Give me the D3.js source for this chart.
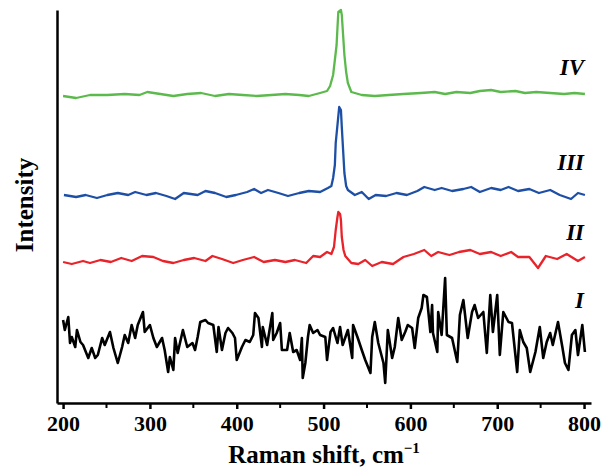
<!DOCTYPE html>
<html lang="en">
  <head>
    <meta charset="UTF-8" />
    <title>Raman spectra</title>
    <script src="https://cdn.jsdelivr.net/npm/d3@7"></script>
    <style>
      body { margin: 0; background: #fff; }
      text { font-family: "Liberation Serif", "Times New Roman", serif; font-weight: bold; }
    </style>
  </head>
  <body>
    <div id="chart"></div>
    <script>
      // wavenumber (cm-1) / intensity (a.u.)
      const shiftI = [200,202,206,208,210,214,216,220,223,229,233,237,240,245,248,254,258,263,268,271,275,279,283,286,292,294,300,304,308,314,317,321,323,327,329,332,338,343,349,352,355,358,364,367,373,377,379,383,387,390,395,398,400,406,410,415,419,421,425,429,430,435,441,442,446,450,452,458,461,465,469,473,475,476,479,482,484,488,493,496,502,504,508,511,516,519,522,528,533,534,539,544,548,554,556,559,563,569,571,574,579,582,586,590,594,597,602,605,609,613,615,619,623,625,626,631,632,636,640,642,648,654,657,661,666,671,674,678,684,688,692,695,700,703,707,713,717,723,726,730,734,738,744,749,753,757,761,764,770,775,778,782,786,790,793,798,801];
      const intensityI = [83,73,86,60,66,56,73,61,58,45,55,45,48,65,58,71,55,40,56,68,60,78,65,78,91,71,78,65,56,65,53,31,46,33,65,50,73,56,60,53,66,81,83,80,78,51,76,53,70,75,70,65,43,56,63,61,68,90,85,56,76,58,90,63,70,80,53,53,70,51,53,43,65,25,40,66,78,70,73,68,66,43,71,75,60,76,58,73,45,78,66,53,43,30,66,81,60,40,20,73,45,56,85,63,71,78,75,55,85,95,108,106,71,98,70,51,91,68,125,68,65,41,88,103,65,91,98,85,91,50,108,71,108,48,91,81,80,31,73,61,55,31,51,76,45,61,70,58,81,56,40,33,68,73,48,78,51];

      const shiftII = [200,210,223,231,243,255,267,279,291,304,315,327,339,351,364,372,383,396,407,420,431,444,456,467,480,488,496,504,509,512,514,516,517,519,520,521,523,525,532,540,548,556,567,580,592,604,616,624,632,645,656,669,680,693,704,716,724,737,747,756,769,780,793,801];
      const intensityII = [141,139,142,140,143,141,145,142,147,146,142,140,143,145,142,147,144,140,143,146,141,143,141,143,140,147,146,151,149,156,173,186,191,189,183,166,153,147,140,139,143,137,141,139,146,149,153,147,151,148,151,153,149,151,147,151,146,146,135,147,144,149,142,146];

      const shiftIII = [201,215,226,239,251,263,275,283,296,307,319,329,339,355,364,375,388,399,412,420,428,436,448,459,472,483,496,505,509,511,513,514,516,518,520,521,522.5,524,526,528,536,544,552,560,572,584,596,608,616,628,636,648,661,670,680,693,704,713,724,737,748,761,772,785,793,801];
      const intensityIII = [208,206,208,205,208,210,208,211,208,210,207,204,210,208,212,210,206,208,211,214,210,213,210,207,210,212,211,215,217,225,238,260,278,296,293,276,253,230,217,213,208,211,204,208,207,210,208,212,216,213,215,212,214,216,211,215,213,216,212,214,210,213,208,204,210,208];

      const shiftIV = [200,215,231,251,271,288,297,312,327,343,359,375,391,407,423,440,456,472,483,496,504,507.5,511,513,515,516,517,520,521,522.5,524,526,528,532,544,559,575,592,612,628,640,653,669,680,693,704,721,732,745,761,777,789,801];
      const intensityIV = [307,305,308,308,309,308,311,309,307,309,310,307,309,308,307,308,309,308,307,310,312,317,328,343,358,375,391,393,388,368,348,331,320,311,308,307,308,309,310,311,309,311,310,312,313,311,312,310,311,310,309,310,309];

      const labelNames = ["I", "II", "III", "IV"];
      const xTicks = [200, 300, 400, 500, 600, 700, 800];
      const xMinor = [250, 350, 450, 550, 650, 750];

      const width = 602, height = 470;
      const svg = d3.select("#chart").append("svg")
        .attr("width", width).attr("height", height);

      const x = d3.scaleLinear().domain([193, 808]).range([57, 591]);
      const y = d3.scaleLinear().domain([0, 393]).range([403, 10]);

      const series = [
        { s: shiftI, v: intensityI, color: "#000000", w: 2.6, lab: 95 },
        { s: shiftII, v: intensityII, color: "#e8232a", w: 2.3, lab: 163 },
        { s: shiftIII, v: intensityIII, color: "#1d4fa6", w: 2.3, lab: 233 },
        { s: shiftIV, v: intensityIV, color: "#5cba4c", w: 2.3, lab: 328 }
      ];

      const line = d3.line().x(d => x(d[0])).y(d => y(d[1]));

      series.forEach((sr, i) => {
        svg.append("path")
          .attr("d", line(d3.zip(sr.s, sr.v)))
          .attr("fill", "none")
          .attr("stroke", sr.color)
          .attr("stroke-width", sr.w)
          .attr("stroke-linejoin", "round");

        svg.append("text")
          .attr("x", x(800))
          .attr("y", y(sr.lab))
          .attr("text-anchor", "end")
          .attr("font-size", 23)
          .attr("font-style", "italic")
          .text(labelNames[i]);
      });

      // axes
      const xAxis = svg.append("g")
        .attr("transform", `translate(0,${y(0)})`)
        .call(d3.axisBottom(x).tickValues(xTicks).tickSize(6).tickSizeOuter(0).tickPadding(6));
      xAxis.selectAll(".tick text")
        .attr("font-size", 22)
        .attr("fill", "#000")
        .style("font-family", '"Liberation Serif", serif');
      xAxis.selectAll("line, path").attr("stroke", "#000").attr("stroke-width", 2.5);

      svg.append("g")
        .attr("transform", `translate(0,${y(0)})`)
        .selectAll("line")
        .data(xMinor)
        .join("line")
        .attr("x1", d => x(d)).attr("x2", d => x(d))
        .attr("y1", 0).attr("y2", 5)
        .attr("stroke", "#000").attr("stroke-width", 2);

      const yAxis = svg.append("g")
        .attr("transform", `translate(${x(193)},0)`)
        .call(d3.axisLeft(y).ticks(0).tickSizeOuter(0));
      yAxis.selectAll("path").attr("stroke", "#000").attr("stroke-width", 2.5);

      svg.append("text")
        .attr("x", (x(193) + x(808)) / 2)
        .attr("y", 463)
        .attr("text-anchor", "middle")
        .attr("font-size", 25)
        .text("Raman shift, cm")
        .append("tspan")
        .attr("font-size", 15)
        .attr("dy", -10)
        .text("−1");

      svg.append("text")
        .attr("transform", `translate(33,205) rotate(-90)`)
        .attr("text-anchor", "middle")
        .attr("font-size", 25)
        .text("Intensity");
    </script>
  </body>
</html>
